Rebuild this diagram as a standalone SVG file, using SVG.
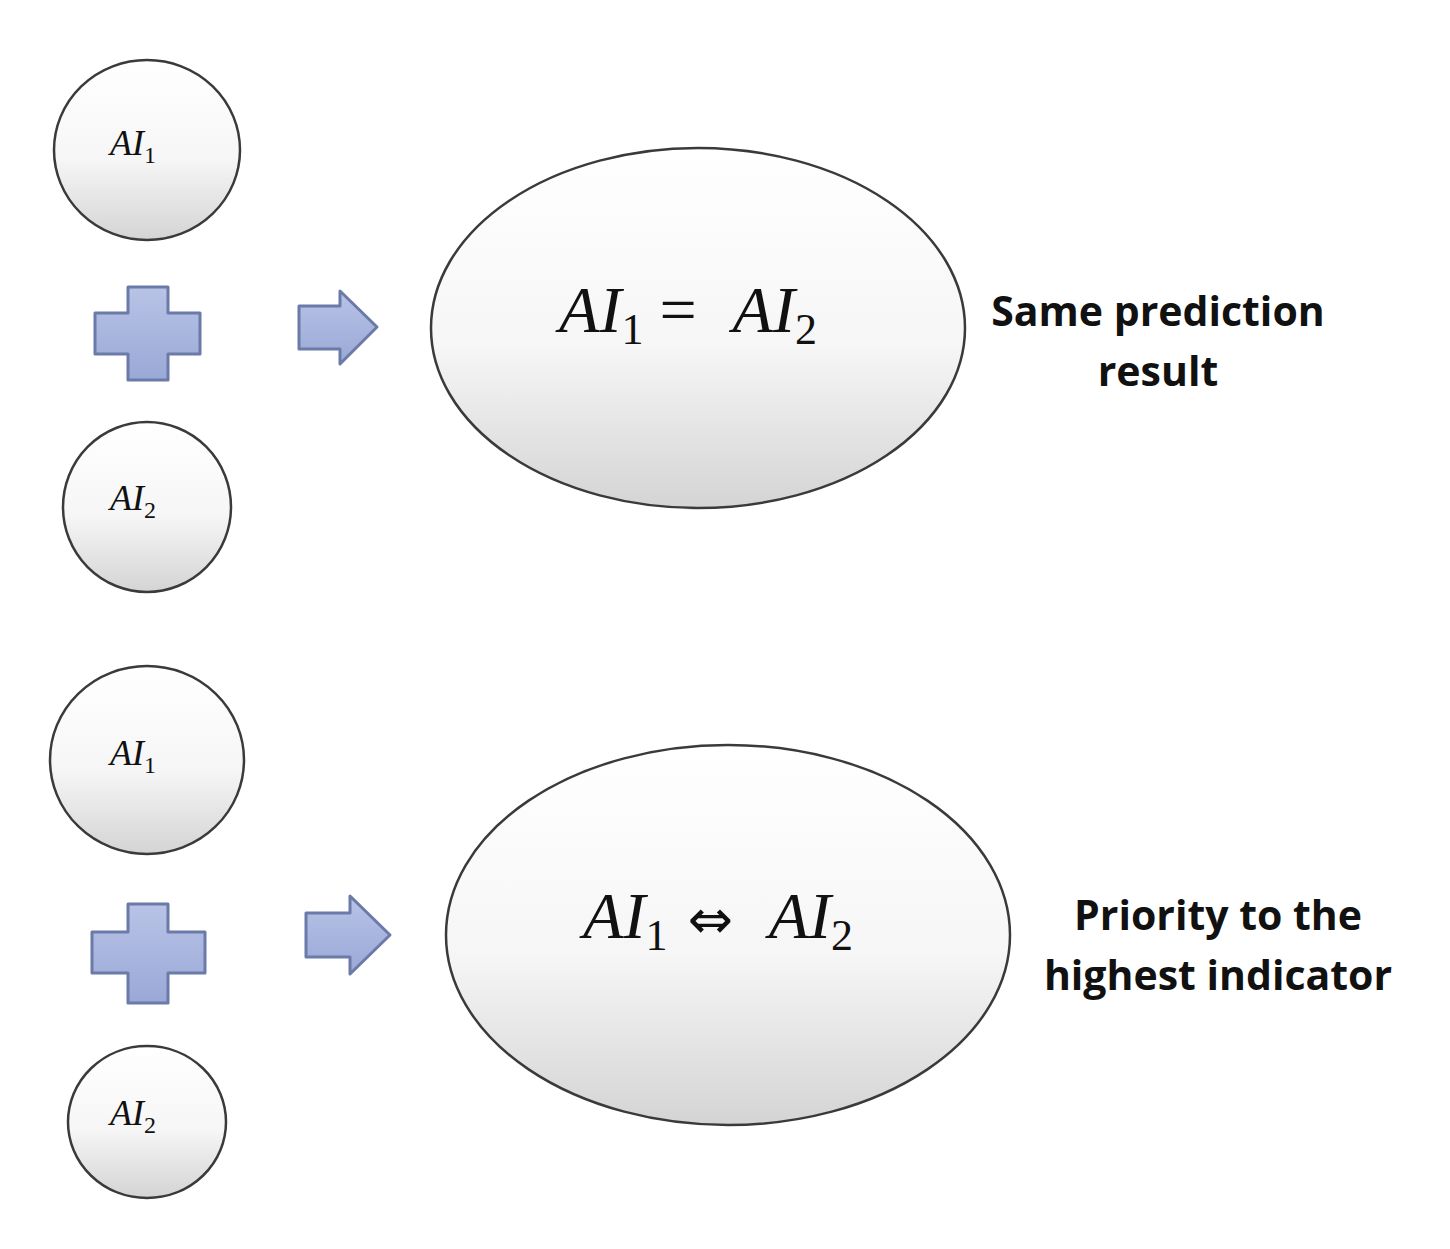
<svg xmlns="http://www.w3.org/2000/svg" width="1450" height="1249" viewBox="0 0 1450 1249">
<defs>
<linearGradient id="g" x1="0" y1="0" x2="0" y2="1"><stop offset="0" stop-color="#ffffff"/><stop offset="0.55" stop-color="#f6f6f6"/><stop offset="1" stop-color="#d4d4d4"/></linearGradient>
<linearGradient id="b" x1="0" y1="0" x2="0" y2="1"><stop offset="0" stop-color="#b8c3e6"/><stop offset="1" stop-color="#9aa8d6"/></linearGradient>
<style>
.n{fill:url(#g);stroke:#3a3a3a;stroke-width:2.5}
.p{fill:url(#b);stroke:#6b7aa8;stroke-width:3;stroke-linejoin:round}
.m{font-family:"Liberation Serif",serif;font-style:italic;fill:#111}
.s{font-style:normal}
.l{font-family:"Open Sans","DejaVu Sans",sans-serif;font-weight:bold;font-size:41px;fill:#111;text-anchor:middle}
</style>
</defs>
<g id="top-ai1"><ellipse class="n" cx="147" cy="150" rx="93" ry="90"/><text class="m" x="110" y="155" font-size="36">AI<tspan class="s" font-size="24" dy="8">1</tspan></text></g>
<g id="top-plus"><path class="p" d="M128 287H168V313H200V354H168V380H128V354H95V313H128Z"/></g>
<g id="top-ai2"><ellipse class="n" cx="147" cy="507" rx="84" ry="85"/><text class="m" x="110" y="510" font-size="36">AI<tspan class="s" font-size="24" dy="8">2</tspan></text></g>
<g id="bot-ai1"><ellipse class="n" cx="147" cy="760" rx="97" ry="94"/><text class="m" x="110" y="765" font-size="36">AI<tspan class="s" font-size="24" dy="8">1</tspan></text></g>
<g id="bot-plus"><path class="p" d="M128 904H168V932H205V973H168V1003H128V973H92V932H128Z"/></g>
<g id="bot-ai2"><ellipse class="n" cx="147" cy="1122" rx="79" ry="76"/><text class="m" x="110" y="1125" font-size="36">AI<tspan class="s" font-size="24" dy="8">2</tspan></text></g>
<g id="connectors">
<path class="p" d="M299 306H340V291L377 327L340 364V349H299Z"/>
<path class="p" d="M306 913H350V896L390 935L350 974V957H306Z"/>
</g>
<g id="top-result"><ellipse class="n" cx="698" cy="328" rx="267" ry="180"/><text class="m" x="688" y="332" font-size="66" text-anchor="middle">AI<tspan class="s" font-size="44" dy="12">1</tspan><tspan class="s" dy="-12" dx="16">=</tspan><tspan dx="36">AI</tspan><tspan class="s" font-size="44" dy="12">2</tspan></text></g>
<g id="bot-result"><ellipse class="n" cx="728" cy="935" rx="282" ry="190"/><text class="m" x="718" y="938" font-size="66" text-anchor="middle">AI<tspan class="s" font-size="44" dy="12">1</tspan><tspan class="s" dy="-12" dx="20" font-family="DejaVu Sans" font-size="54">⇔</tspan><tspan dx="36">AI</tspan><tspan class="s" font-size="44" dy="12">2</tspan></text></g>
<g id="label-top"><text class="l" x="1158" y="326">Same prediction</text><text class="l" x="1158" y="386">result</text></g>
<g id="label-bot"><text class="l" x="1218" y="930">Priority to the</text><text class="l" x="1218" y="990">highest indicator</text></g>
</svg>
